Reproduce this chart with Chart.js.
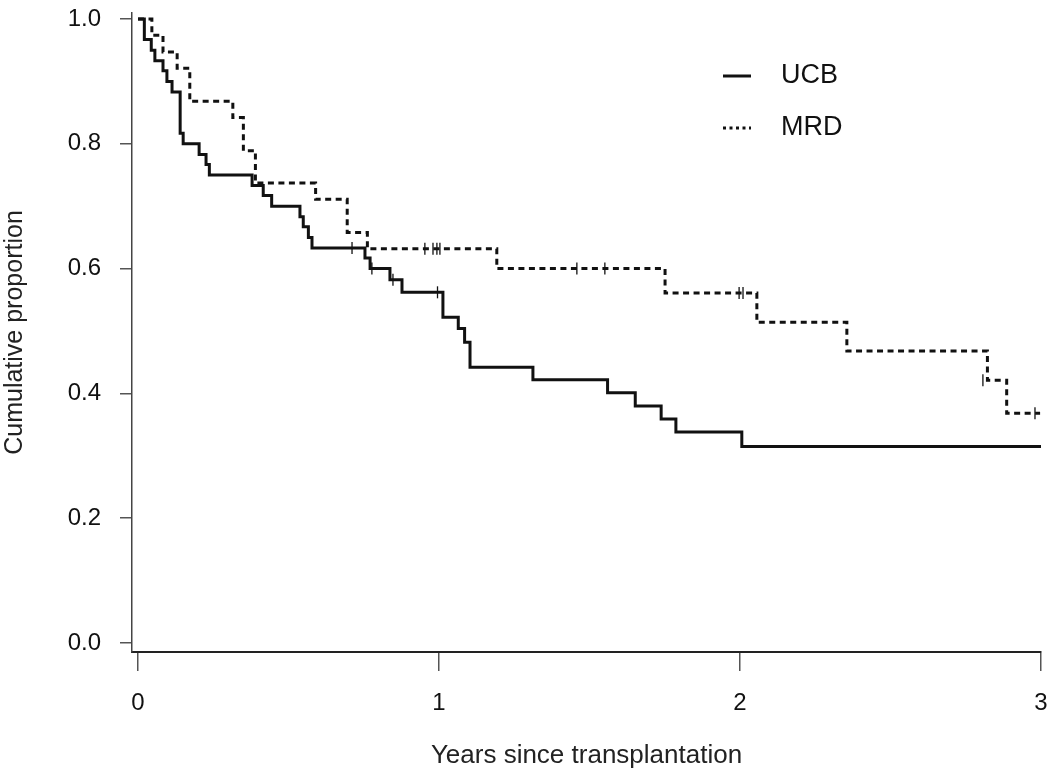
<!DOCTYPE html>
<html>
<head>
<meta charset="utf-8">
<script src="https://cdn.jsdelivr.net/npm/chart.js@4/dist/chart.umd.min.js"></script>
<style>
  html, body { margin: 0; padding: 0; background: #fff; }
  #wrap { width: 1050px; height: 780px; }
</style>
</head>
<body>
<div id="wrap"><canvas id="cvs_km" width="1050" height="780"></canvas></div>
<script>
// Kaplan-Meier curves (years, cumulative proportion)
var ucbTimes = [0, 0.021, 0.044, 0.056, 0.083, 0.096, 0.113, 0.140, 0.150, 0.203, 0.226, 0.237,
                0.379, 0.416, 0.444, 0.538, 0.549, 0.566, 0.578, 0.754, 0.771, 0.837, 0.877,
                1.013, 1.064, 1.085, 1.103, 1.312, 1.560, 1.652, 1.738, 1.787, 2.006, 3.0];
var ucbSurv  = [1.0, 0.967, 0.950, 0.933, 0.917, 0.900, 0.883, 0.817, 0.800, 0.783, 0.767, 0.750,
                0.733, 0.717, 0.700, 0.683, 0.667, 0.650, 0.633, 0.617, 0.600, 0.582, 0.562,
                0.522, 0.504, 0.482, 0.442, 0.422, 0.401, 0.380, 0.359, 0.338, 0.315, 0.315];
var ucbCensorTimes = [0.711, 0.777, 0.847, 0.995];
var ucbCensorSurv  = [0.633, 0.600, 0.582, 0.562];

var mrdTimes = [0, 0.046, 0.083, 0.130, 0.172, 0.315, 0.350, 0.390, 0.590, 0.695, 0.762,
                1.192, 1.751, 2.056, 2.355, 2.822, 2.886, 2.997];
var mrdSurv  = [1.0, 0.974, 0.947, 0.921, 0.868, 0.842, 0.789, 0.737, 0.711, 0.658, 0.632,
                0.600, 0.561, 0.514, 0.468, 0.421, 0.368, 0.368];
var mrdCensorTimes = [0.953, 0.980, 0.993, 1.003, 1.458, 1.551, 1.997, 2.010, 2.807, 2.980];
var mrdCensorSurv  = [0.632, 0.632, 0.632, 0.632, 0.600, 0.600, 0.561, 0.561, 0.421, 0.368];

var xTicks = [0, 1, 2, 3];
var yTicks = [0, 0.2, 0.4, 0.6, 0.8, 1.0];
var seriesNames = ["UCB", "MRD"];

function pts(xs, ys) {
    return xs.map(function (x, i) { return { x: x, y: ys[i] }; });
}

var FONT = "'Liberation Sans', Arial, sans-serif";
var INK = '#111';

var legendPlugin = {
    id: 'kmLegend',
    afterDraw: function (chart) {
        var ctx = chart.ctx;
        var rows = [
            { label: seriesNames[0], y: 76, dash: [], lw: 3 },
            { label: seriesNames[1], y: 128, dash: [3, 3.5], lw: 3 }
        ];
        ctx.save();
        rows.forEach(function (r) {
            ctx.beginPath();
            ctx.setLineDash(r.dash);
            ctx.lineWidth = r.lw;
            ctx.strokeStyle = INK;
            ctx.moveTo(723, r.y);
            ctx.lineTo(751, r.y);
            ctx.stroke();
            ctx.setLineDash([]);
            ctx.fillStyle = INK;
            ctx.font = '27px ' + FONT;
            ctx.textBaseline = 'middle';
            ctx.textAlign = 'left';
            ctx.fillText(r.label, 781, r.y);
        });
        ctx.restore();
    }
};

function noPad(s) {
    s.paddingTop = 0;
    s.paddingBottom = 0;
    s.paddingLeft = 0;
    s.paddingRight = 0;
}

var config = {
    type: 'line',
    data: {
        datasets: [{
            label: seriesNames[0],
            data: pts(ucbTimes, ucbSurv),
            borderColor: INK,
            borderWidth: 3,
            stepped: 'before',
            pointRadius: 0,
            fill: false
        }, {
            label: seriesNames[1],
            data: pts(mrdTimes, mrdSurv),
            borderColor: INK,
            borderWidth: 3,
            borderDash: [6, 4.5],
            stepped: 'before',
            pointRadius: 0,
            fill: false
        }, {
            label: 'UCB censored',
            data: pts(ucbCensorTimes, ucbCensorSurv),
            showLine: false,
            pointStyle: 'line',
            rotation: 90,
            pointRadius: 6,
            pointBorderWidth: 1.3,
            pointBorderColor: INK,
            borderColor: INK
        }, {
            label: 'MRD censored',
            data: pts(mrdCensorTimes, mrdCensorSurv),
            showLine: false,
            pointStyle: 'line',
            rotation: 90,
            pointRadius: 6,
            pointBorderWidth: 1.3,
            pointBorderColor: INK,
            borderColor: INK
        }]
    },
    options: {
        responsive: false,
        animation: false,
        layout: { padding: { top: 13, right: 9, left: 0, bottom: 0 } },
        plugins: {
            legend: { display: false },
            tooltip: { enabled: false }
        },
        scales: {
            x: {
                type: 'linear',
                min: -0.02,
                max: 3.0,
                afterFit: function (s) { s.height = 128; noPad(s); },
                afterBuildTicks: function (s) {
                    s.ticks = xTicks.map(function (v) { return { value: v }; });
                },
                ticks: {
                    color: '#111',
                    font: { family: FONT, size: 24 },
                    padding: 18,
                    maxRotation: 0,
                    callback: function (v) { return String(v); }
                },
                grid: {
                    drawOnChartArea: false,
                    drawTicks: true,
                    tickLength: 19,
                    color: '#555',
                    lineWidth: 1.5
                },
                border: { display: true, color: '#222', width: 2 },
                title: {
                    display: true,
                    text: 'Years since transplantation',
                    color: '#222',
                    font: { family: FONT, size: 26 },
                    padding: { top: 0, bottom: 9 }
                }
            },
            y: {
                type: 'linear',
                min: -0.0144,
                max: 1.0096,
                afterFit: function (s) { s.width = 132; noPad(s); },
                afterBuildTicks: function (s) {
                    s.ticks = yTicks.map(function (v) { return { value: v }; });
                },
                ticks: {
                    color: '#111',
                    font: { family: FONT, size: 24 },
                    padding: 19,
                    callback: function (v) { return Number(v).toFixed(1); }
                },
                grid: {
                    drawOnChartArea: false,
                    drawTicks: true,
                    tickLength: 12,
                    color: '#555',
                    lineWidth: 1.5
                },
                border: { display: true, color: '#444', width: 1.5 },
                title: {
                    display: true,
                    text: 'Cumulative proportion',
                    color: '#222',
                    font: { family: FONT, size: 25 },
                    padding: { top: 0, bottom: 0 }
                }
            }
        }
    },
    plugins: [legendPlugin]
};

window.onload = function () {
    window.myKM = new Chart(document.getElementById("cvs_km"), config);
};
</script>
</body>
</html>
